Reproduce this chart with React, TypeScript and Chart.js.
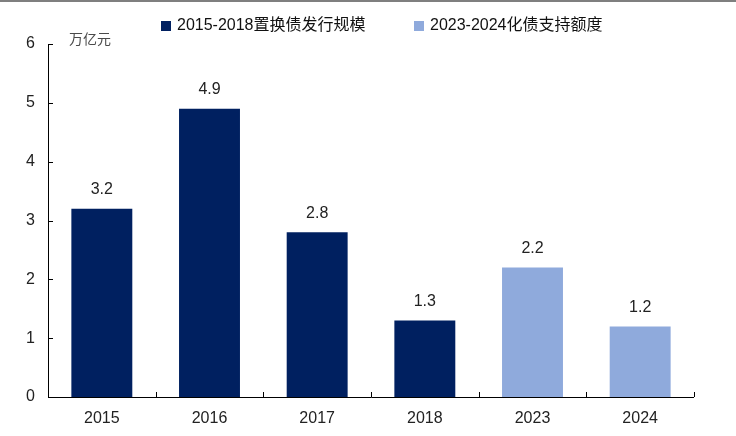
import React, { useEffect, useRef } from "react";
import { Chart, registerables } from "chart.js";

Chart.register(...registerables);

const categories = ["2015", "2016", "2017", "2018", "2023", "2024"];
const replacementBonds = [3.2, 4.9, 2.8, 1.3, null, null];
const debtSupport = [null, null, null, null, 2.2, 1.2];
const seriesNames = ["2015-2018置换债发行规模", "2023-2024化债支持额度"];
const seriesColors = ["#002060", "#8FAADC"];
const unitLabel = "万亿元";
const yTicks = [0, 1, 2, 3, 4, 5, 6];

const FONT = "'Liberation Sans', Arial, 'Noto Sans CJK SC', sans-serif";
const CJK = "'Liberation Sans', Arial, 'Noto Sans CJK SC', serif";

const decorPlugin = {
  id: "decor",
  afterDraw(chart: any) {
    const ctx = chart.ctx;
    const area = chart.chartArea;
    const y = chart.scales.y;
    ctx.save();
    // top border
    ctx.fillStyle = "#7f7f7f";
    ctx.fillRect(0, 0, chart.width, 2);
    // axes
    ctx.strokeStyle = "#000";
    ctx.lineWidth = 1;
    ctx.beginPath();
    ctx.moveTo(area.left + 0.5, area.top);
    ctx.lineTo(area.left + 0.5, area.bottom + 0.5);
    ctx.lineTo(area.right, area.bottom + 0.5);
    ctx.stroke();
    // y ticks inward
    ctx.beginPath();
    yTicks.forEach((v) => {
      const py = Math.round(y.getPixelForValue(v)) + 0.5;
      ctx.moveTo(area.left, py);
      ctx.lineTo(area.left + 5, py);
    });
    // x ticks inward at category boundaries
    const n = categories.length;
    for (let i = 0; i <= n; i++) {
      const px = Math.round(area.left + ((area.right - area.left) * i) / n) + 0.5;
      ctx.moveTo(px, area.bottom);
      ctx.lineTo(px, area.bottom - 5);
    }
    ctx.stroke();
    // unit label
    ctx.fillStyle = "#4a4a4a";
    ctx.font = "14px " + CJK;
    ctx.textAlign = "left";
    ctx.textBaseline = "middle";
    ctx.fillText(unitLabel, 69, 40);
    // data labels
    ctx.fillStyle = "#222";
    ctx.font = "16px " + FONT;
    ctx.textAlign = "center";
    ctx.textBaseline = "middle";
    chart.data.datasets.forEach((ds: any, di: number) => {
      const meta = chart.getDatasetMeta(di);
      meta.data.forEach((bar: any, i: number) => {
        const v = ds.data[i];
        if (v === null || v === undefined) return;
        ctx.fillText(v.toFixed(1), bar.x, bar.y - 19);
      });
    });
    // legend
    ctx.font = "16px " + CJK;
    ctx.textAlign = "left";
    const legendX = [161, 414];
    seriesNames.forEach((name, i) => {
      ctx.fillStyle = seriesColors[i];
      ctx.fillRect(legendX[i], 21, 10, 10);
      ctx.fillStyle = "#111";
      ctx.fillText(name, legendX[i] + 16, 26);
    });
    ctx.restore();
  },
};

export default function App() {
  const ref = useRef<HTMLCanvasElement>(null);
  useEffect(() => {
    document.body.style.margin = "0";
    const chart = new Chart(ref.current!, {
      type: "bar",
      data: {
        labels: categories,
        datasets: [
          {
            label: seriesNames[0],
            data: replacementBonds,
            backgroundColor: seriesColors[0],
            skipNull: true,
          } as any,
          {
            label: seriesNames[1],
            data: debtSupport,
            backgroundColor: seriesColors[1],
            skipNull: true,
          } as any,
        ],
      },
      options: {
        animation: false,
        responsive: false,
        layout: { padding: { top: 44, right: 42, bottom: 0, left: 0 } },
        datasets: { bar: { categoryPercentage: 1, barPercentage: 0.566 } },
        plugins: { legend: { display: false }, tooltip: { enabled: false } },
        scales: {
          x: {
            grid: { display: false, drawTicks: false },
            border: { display: false },
            ticks: { color: "#222", font: { size: 16, family: FONT }, padding: 12 },
            afterFit: (s: any) => {
              s.height = 39;
            },
          },
          y: {
            min: 0,
            max: 6,
            grid: { display: false, drawTicks: false },
            border: { display: false },
            ticks: { stepSize: 1, color: "#222", font: { size: 16, family: FONT }, padding: 13 },
            afterFit: (s: any) => {
              s.width = 48;
            },
          },
        },
      },
      plugins: [decorPlugin],
    });
    return () => chart.destroy();
  }, []);
  return <canvas ref={ref} width={736} height={436} style={{ display: "block" }} />;
}
